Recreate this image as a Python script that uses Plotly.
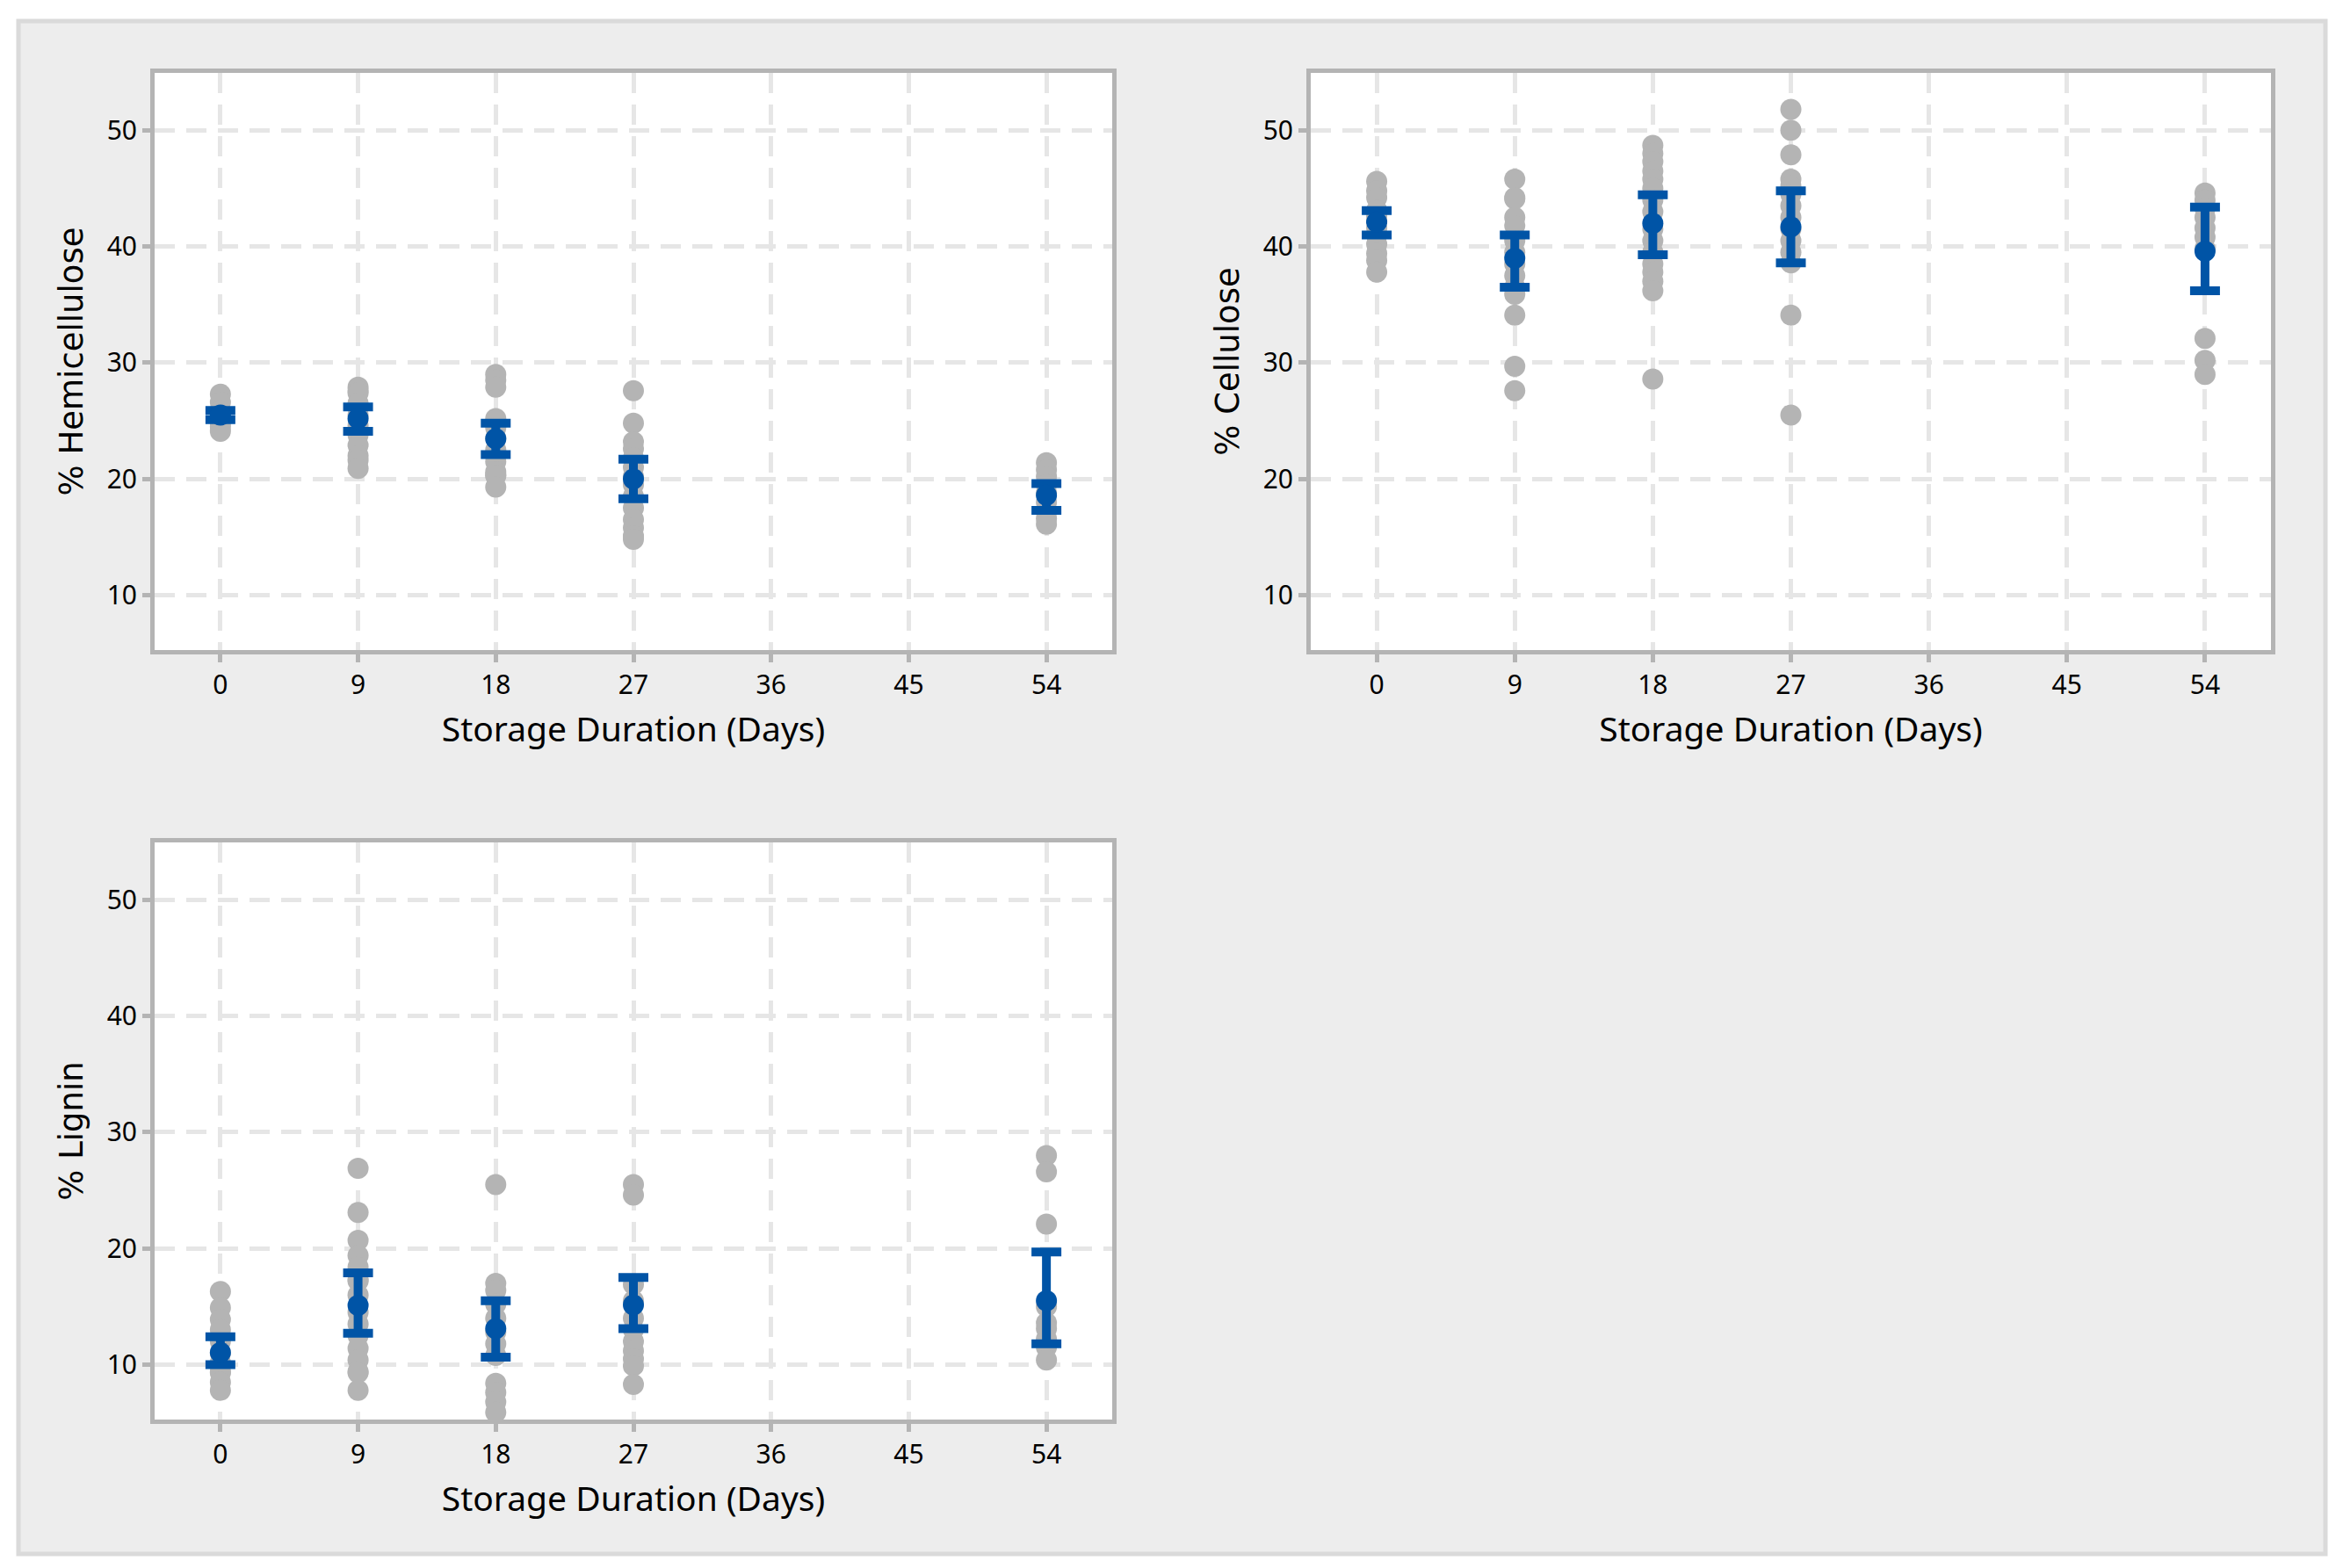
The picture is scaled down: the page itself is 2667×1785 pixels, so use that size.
import plotly.graph_objects as go

# ---------------- data ----------------
days = [0, 9, 18, 27, 54]
x_ticks = [0, 9, 18, 27, 36, 45, 54]
y_ticks = [10, 20, 30, 40, 50]

# Hemicellulose individual values per storage day
hemi_d0 = [27.3, 26.6, 25.9, 25.9, 25.6, 25.2, 24.8, 24.5, 24.1]
hemi_d9 = [27.9, 27.6, 27.4, 26.5, 25.5, 24.6, 23.8, 22.9, 22.0, 21.6, 20.9]
hemi_d18 = [29.0, 28.5, 27.9, 25.2, 24.4, 23.5, 22.5, 21.5, 20.6, 20.3, 20.3, 19.3]
hemi_d27 = [27.6, 24.8, 23.2, 22.6, 21.8, 21.0, 20.2, 19.5, 18.5, 17.5, 16.5, 15.8, 15.1, 14.8]
hemi_d54 = [21.4, 20.8, 20.2, 19.5, 18.8, 18.0, 17.2, 16.6, 16.1]
hemi_mean = [25.5, 25.2, 23.45, 20.0, 18.6]
hemi_lo = [25.1, 24.1, 22.1, 18.3, 17.3]
hemi_hi = [25.9, 26.2, 24.8, 21.7, 19.6]

# Cellulose individual values per storage day
cell_d0 = [45.6, 44.8, 44.2, 43.1, 43.1, 42.6, 42.2, 41.6, 41.0, 40.2, 39.4, 38.8, 37.8]
cell_d9 = [45.8, 44.2, 44.1, 42.5, 41.8, 40.5, 39.5, 38.5, 37.5, 36.5, 35.9, 34.1, 29.7, 27.6]
cell_d18 = [48.7, 48.0, 47.3, 46.5, 45.8, 45.0, 44.0, 43.0, 41.5, 40.5, 39.5, 38.5, 37.8, 37.0, 36.2, 28.6]
cell_d27 = [51.8, 50.0, 47.9, 45.8, 45.2, 44.5, 43.5, 42.5, 41.5, 40.5, 39.5, 38.6, 34.1, 25.5]
cell_d54 = [44.6, 44.0, 43.3, 42.5, 41.6, 40.8, 39.8, 32.1, 30.2, 29.0]
cell_mean = [42.1, 39.0, 42.0, 41.7, 39.6]
cell_lo = [41.0, 36.5, 39.3, 38.6, 36.2]
cell_hi = [43.1, 41.0, 44.45, 44.8, 43.4]

# Lignin individual values per storage day
lig_d0 = [16.3, 14.9, 13.9, 13.0, 12.0, 11.0, 10.2, 9.4, 9.3, 8.5, 7.8]
lig_d9 = [26.9, 23.1, 20.7, 19.4, 18.4, 17.3, 17.2, 16.0, 14.5, 13.5, 12.5, 11.4, 10.4, 9.4, 9.3, 7.8]
lig_d18 = [25.5, 17.0, 16.4, 15.2, 14.0, 12.8, 11.8, 10.8, 8.4, 7.6, 6.8, 5.9]
lig_d27 = [25.5, 24.6, 16.9, 15.5, 14.0, 13.0, 12.0, 11.2, 10.5, 9.9, 8.3]
lig_d54 = [28.0, 26.6, 22.1, 15.0, 13.6, 13.1, 12.2, 12.0, 11.5, 10.4]
lig_mean = [11.05, 15.1, 13.1, 15.15, 15.5]
lig_lo = [10.0, 12.7, 10.65, 13.1, 11.8]
lig_hi = [12.4, 17.9, 15.5, 17.5, 19.7]

x_title = "Storage Duration (Days)"
y_titles = ["% Hemicellulose", "% Cellulose", "% Lignin"]

# ---------------- styling ----------------
W, H = 2667, 1785
GRAY = "#b4b4b4"
BLUE = "#0054a6"
FRAME = "#b4b4b4"
GRID = "#e6e6e6"

panels = [
    (y_titles[0], [hemi_d0, hemi_d9, hemi_d18, hemi_d27, hemi_d54], hemi_mean, hemi_lo, hemi_hi),
    (y_titles[1], [cell_d0, cell_d9, cell_d18, cell_d27, cell_d54], cell_mean, cell_lo, cell_hi),
    (y_titles[2], [lig_d0, lig_d9, lig_d18, lig_d27, lig_d54], lig_mean, lig_lo, lig_hi),
]

# plot-area pixel boxes (left, top, right, bottom)
boxes = [(176, 83, 1266, 740), (1492, 83, 2585, 740), (176, 959, 1266, 1616)]

shapes = [dict(type="rect", xref="paper", yref="paper",
               x0=21 / W, x1=2647 / W, y0=1 - 1769 / H, y1=1 - 24 / H,
               fillcolor="#ededed", line=dict(color="#dadada", width=5),
               layer="below")]

fig = go.Figure()
layout = {}
for i, (ytitle, groups, mean, lo, hi) in enumerate(panels):
    sfx = "" if i == 0 else str(i + 1)
    xs, ys = [], []
    for d, vals in zip(days, groups):
        xs += [d] * len(vals)
        ys += vals
    fig.add_trace(go.Scatter(
        x=xs, y=ys, mode="markers", xaxis="x" + sfx, yaxis="y" + sfx,
        marker=dict(color=GRAY, size=24, line=dict(width=0)),
        showlegend=False, hoverinfo="x+y"))
    fig.add_trace(go.Scatter(
        x=days, y=mean, mode="markers", xaxis="x" + sfx, yaxis="y" + sfx,
        marker=dict(color=BLUE, size=24, line=dict(width=0)),
        error_y=dict(type="data", symmetric=False,
                     array=[h - m for h, m in zip(hi, mean)],
                     arrayminus=[m - l for m, l in zip(mean, lo)],
                     color=BLUE, thickness=10, width=17),
        showlegend=False, hoverinfo="x+y"))

    l, t, r, b = boxes[i]
    shapes.append(dict(type="rect", xref="paper", yref="paper",
                       x0=l / W, x1=r / W, y0=1 - b / H, y1=1 - t / H,
                       fillcolor="white", line=dict(width=0), layer="below"))
    axcommon = dict(
        showline=True, linecolor=FRAME, linewidth=5, mirror=True,
        showgrid=True, gridcolor=GRID, gridwidth=5, griddash="23px,13px",
        zeroline=False, ticks="outside", ticklen=9, tickwidth=5, tickcolor=FRAME,
        tickfont=dict(family="Noto Sans", size=30, color="black"),
    )
    layout["xaxis" + sfx] = dict(
        axcommon, domain=[l / W, r / W], range=[-4.3, 58.3],
        tickmode="array", tickvals=x_ticks, ticktext=[str(v) for v in x_ticks],
        anchor="y" + sfx,
        title=dict(text=x_title, standoff=20,
                   font=dict(family="Noto Sans", size=39, color="black")))
    layout["yaxis" + sfx] = dict(
        axcommon, domain=[1 - b / H, 1 - t / H], range=[5.28, 54.94],
        tickmode="array", tickvals=y_ticks, ticktext=[str(v) for v in y_ticks],
        anchor="x" + sfx,
        title=dict(text=ytitle, standoff=17,
                   font=dict(family="DejaVu Sans", size=37, color="black")))

fig.update_layout(
    **layout,
    width=W, height=H,
    margin=dict(l=0, r=0, t=0, b=0, pad=0),
    paper_bgcolor="white", plot_bgcolor="white",
    shapes=shapes,
)

fig.write_html("out.html", config={"displayModeBar": False},
               post_script="document.body.style.margin='0px';")
